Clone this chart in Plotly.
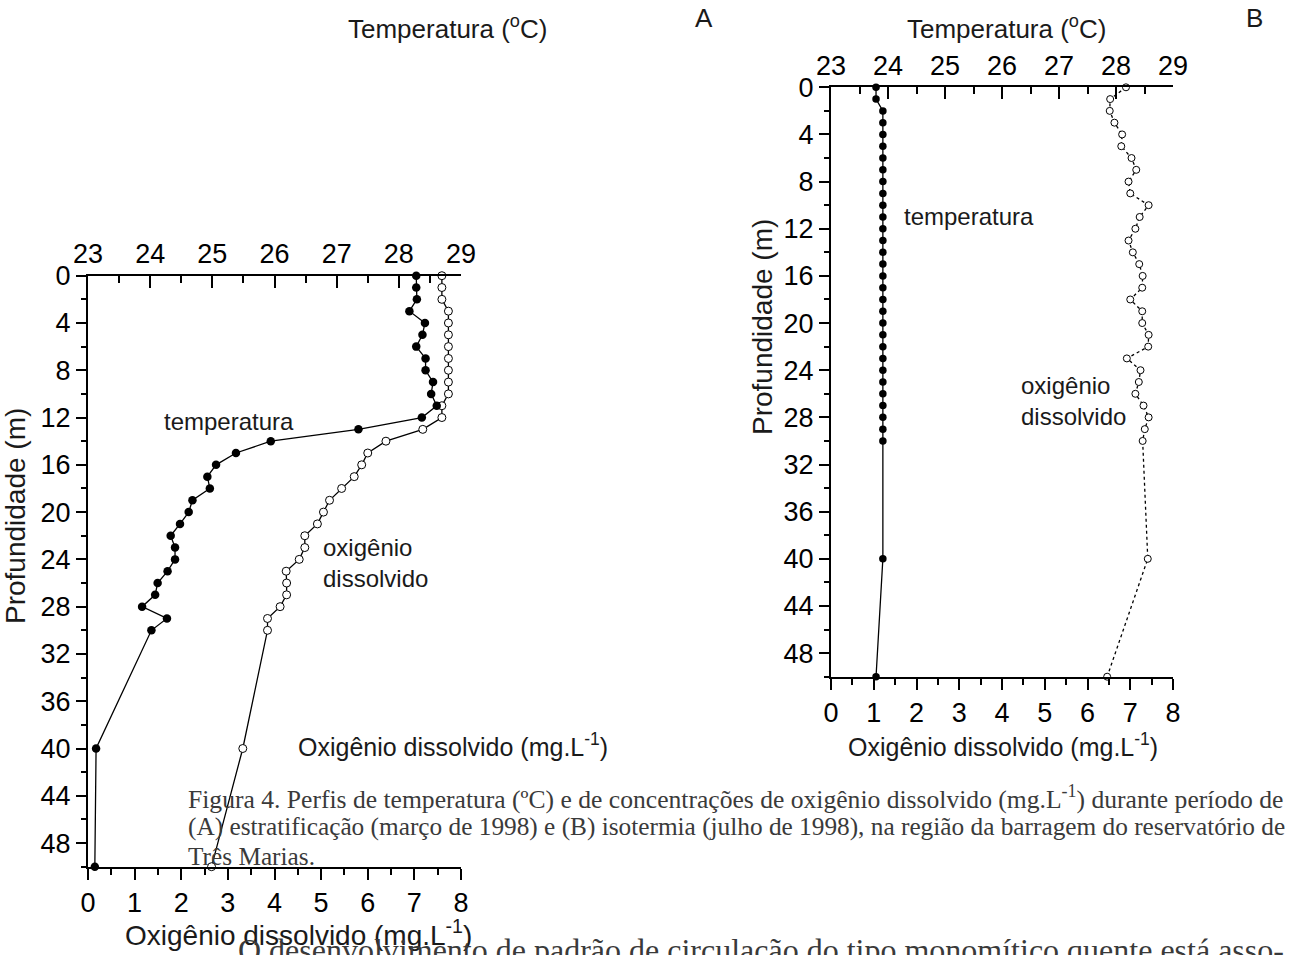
import plotly.graph_objects as go

W, H = 1292, 955

# ---------------- data ----------------
depth_A = [0, 1, 2, 3, 4, 5, 6, 7, 8, 9, 10, 11, 12, 13, 14, 15, 16, 17, 18, 19,
           20, 21, 22, 23, 24, 25, 26, 27, 28, 29, 30, 40, 50]
temp_A = [28.28, 28.28, 28.29, 28.17, 28.42, 28.38, 28.28, 28.43, 28.43, 28.55,
          28.52, 28.61, 28.37, 27.35, 25.94, 25.38, 25.06, 24.92, 24.96, 24.68,
          24.62, 24.48, 24.33, 24.40, 24.40, 24.28, 24.12, 24.08, 23.87, 24.27,
          24.02, 23.13, 23.11]
oxy_A = [7.59, 7.59, 7.59, 7.73, 7.73, 7.73, 7.73, 7.73, 7.73, 7.73, 7.73, 7.59,
         7.59, 7.18, 6.39, 6.00, 5.87, 5.71, 5.44, 5.18, 5.05, 4.92, 4.65, 4.65,
         4.53, 4.25, 4.26, 4.26, 4.12, 3.85, 3.85, 3.32, 2.65]

depth_B = depth_A
temp_B = [23.79, 23.79, 23.91, 23.91, 23.91, 23.91, 23.91, 23.91, 23.91, 23.91,
          23.91, 23.91, 23.91, 23.91, 23.91, 23.91, 23.91, 23.91, 23.91, 23.91,
          23.91, 23.91, 23.91, 23.91, 23.91, 23.91, 23.91, 23.91, 23.91, 23.91,
          23.91, 23.91, 23.79]
oxy_B = [6.90, 6.53, 6.52, 6.63, 6.81, 6.79, 7.03, 7.14, 6.96, 7.00, 7.43, 7.22,
         7.12, 6.96, 7.06, 7.21, 7.29, 7.28, 7.00, 7.28, 7.28, 7.43, 7.42, 6.92,
         7.24, 7.20, 7.12, 7.31, 7.43, 7.34, 7.29, 7.41, 6.46]

oxy_range = [0, 8]
temp_range = [23, 29]
depth_range = [50, 0]

# ---------------- layout helpers ----------------
def px(x):
    return x / W

def py(y):
    return 1 - y / H

FONT = "Liberation Sans, Arial, sans-serif"
SERIF = "Liberation Serif, Times New Roman, serif"

domA_x = [px(88), px(461)]
domA_y = [py(866.7), py(275.7)]
domB_x = [px(831), px(1173)]
domB_y = [py(676.7), py(87.3)]

fig = go.Figure()

def add_panel(temp, oxy, depth, xo, xt, ya, fsize, osize, odash):
    fig.add_trace(go.Scatter(
        x=temp, y=depth, xaxis=xt, yaxis=ya, mode="lines+markers",
        line=dict(color="black", width=1.3),
        marker=dict(symbol="circle", size=fsize, color="black"),
        cliponaxis=False, showlegend=False))
    fig.add_trace(go.Scatter(
        x=oxy, y=depth, xaxis=xo, yaxis=ya, mode="lines+markers",
        line=dict(color="black", width=1.3, dash=odash),
        marker=dict(symbol="circle", size=osize,
                    color="white", line=dict(color="black", width=1)),
        cliponaxis=False, showlegend=False))

add_panel(temp_A, oxy_A, depth_A, "x", "x2", "y", 8.5, 8, "solid")
add_panel(temp_B, oxy_B, depth_B, "x3", "x4", "y3", 7.5, 7, "dot")

tickfont = dict(family=FONT, size=27, color="black")

def bottom_axis(dom, anchor):
    return dict(domain=dom, anchor=anchor, range=oxy_range, side="bottom",
                automargin=False,
                showline=True, linewidth=2, linecolor="black",
                ticks="outside", ticklen=11, tickwidth=2, tickcolor="black",
                dtick=1, tick0=0, tickfont=tickfont, showgrid=False, zeroline=False,
                minor=dict(ticks="outside", ticklen=6, tickwidth=2, dtick=0.5,
                           tickcolor="black", showgrid=False),
                fixedrange=True)

def top_axis(over, anchor):
    return dict(overlaying=over, anchor=anchor, range=temp_range, side="top",
                automargin=False,
                showline=True, linewidth=2, linecolor="black",
                ticks="inside", ticklen=12, tickwidth=2, tickcolor="black",
                dtick=1, tick0=23, tickfont=tickfont, showgrid=False, zeroline=False,
                minor=dict(ticks="inside", ticklen=7, tickwidth=2, dtick=0.5,
                           tickcolor="black", showgrid=False),
                fixedrange=True)

def left_axis(dom, anchor):
    return dict(domain=dom, anchor=anchor, range=depth_range, side="left",
                automargin=False,
                showline=True, linewidth=2, linecolor="black",
                ticks="outside", ticklen=10, tickwidth=2, tickcolor="black",
                dtick=4, tick0=0, tickfont=tickfont, showgrid=False, zeroline=False,
                minor=dict(ticks="outside", ticklen=5, tickwidth=2, dtick=2,
                           tickcolor="black", showgrid=False),
                fixedrange=True)

def right_axis(over, anchor):
    return dict(overlaying=over, anchor=anchor, range=depth_range, side="right",
                automargin=False,
                showline=True, linewidth=2, linecolor="black",
                ticks="inside", ticklen=4, tickwidth=1.5, tickcolor="black",
                dtick=4, tick0=0, showticklabels=False, showgrid=False, zeroline=False,
                minor=dict(ticks="inside", ticklen=3, tickwidth=1.5, dtick=2,
                           tickcolor="black", showgrid=False),
                fixedrange=True)

fig.update_layout(
    template="none",
    width=W, height=H,
    margin=dict(l=0, r=0, t=0, b=0, pad=0),
    paper_bgcolor="white", plot_bgcolor="white",
    xaxis=bottom_axis(domA_x, "y"),
    xaxis2=top_axis("x", "y"),
    yaxis=left_axis(domA_y, "x"),
    yaxis2=right_axis("y", "x"),
    xaxis3=bottom_axis(domB_x, "y3"),
    xaxis4=top_axis("x3", "y3"),
    yaxis3=left_axis(domB_y, "x3"),
    yaxis4=right_axis("y3", "x3"),
)

annots = []

def text(x, y, s, size=23, family=FONT, color="#1a1a1a", xanchor="center",
         yanchor="middle", align="center", angle=0):
    annots.append(dict(x=px(x), y=py(y), xref="paper", yref="paper", text=s,
                       showarrow=False, xanchor=xanchor, yanchor=yanchor,
                       align=align, textangle=angle,
                       font=dict(family=family, size=size, color=color)))

oxlabel = "Oxigênio dissolvido (mg.L<sup>-1</sup>)"
templabel = "Temperatura (<sup>o</sup>C)"

# Panel A labels
text(447, 27, templabel, size=26)
text(704, 18, "A", size=26)
text(15, 516, "Profundidade (m)", size=28, angle=-90)
text(298, 933, oxlabel, size=28)
text(453, 745, oxlabel, size=25)
text(162, 422, "temperatura", size=24, xanchor="left")
text(321, 563, "oxigênio<br>dissolvido", size=24, xanchor="left", align="left")

# Panel B labels
text(1006, 27, templabel, size=26)
text(1254, 18, "B", size=26)
text(762, 327, "Profundidade (m)", size=28, angle=-90)
text(1003, 745, oxlabel, size=25)
text(902, 216, "temperatura", size=24, xanchor="left")
text(1019, 401, "oxigênio<br>dissolvido", size=24, xanchor="left", align="left")

# Caption
cap_col = "#3a3a3a"
cap1 = ("Figura 4. Perfis de temperatura (ºC) e de concentrações de oxigênio "
        "dissolvido (mg.L<sup>-1</sup>) durante período de")
cap2 = ("(A) estratificação (março de 1998) e (B) isotermia (julho de 1998), "
        "na região da barragem do reservatório de")
cap3 = "Três Marias."
text(186, 797, cap1, size=25.6, family=SERIF, color=cap_col, xanchor="left")
text(186, 826, cap2, size=25.3, family=SERIF, color=cap_col, xanchor="left")
text(186, 856, cap3, size=25.3, family=SERIF, color=cap_col, xanchor="left")

body = "O desenvolvimento de padrão de circulação do tipo monomítico quente está asso-"
text(236, 950, body, size=32, family=SERIF, color=cap_col, xanchor="left")

fig.update_layout(annotations=annots)

fig.write_html("out.html")
